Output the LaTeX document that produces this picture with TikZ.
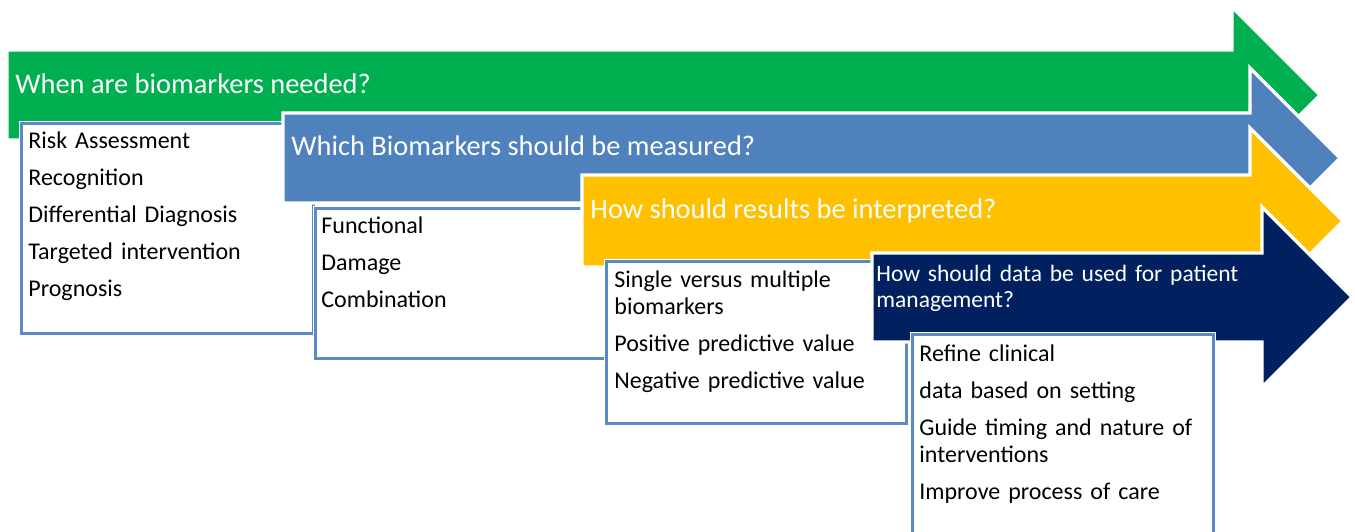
\documentclass[tikz,border=0pt]{standalone}
\usepackage{fontspec}
\setmainfont{Carlito}
\definecolor{vert}{HTML}{00B050}
\definecolor{bleu}{HTML}{4F81BD}
\definecolor{jaune}{HTML}{FFC000}
\definecolor{marine}{HTML}{002060}
\definecolor{cadre}{HTML}{5A8AC6}
\begin{document}
\begin{tikzpicture}[x=0.5pt, y=-0.5pt]
\tikzset{fleche/.style={draw=white, line width=1.6pt, line join=miter},
  boite/.style={draw=cadre, line width=1.5pt, fill=white, preaction={draw=white, line width=2.8pt}, anchor=north west, inner sep=0pt},
  titre/.style={text=white, anchor=base west, inner sep=0pt, font=\fontsize{14.2}{16}\selectfont},
  liste/.style={anchor=base west, inner sep=0pt, text width=148pt, align=left, font=\fontsize{12}{13.5}\selectfont}}
\useasboundingbox (0,0) rectangle (1355,531);
\clip (0,0) rectangle (1355,531);
% step 1
\fill[fleche, fill=vert] (7,50) -- (1232,50) -- (1232,7) -- (1320,95) -- (1232,183) -- (1232,140) -- (7,140) -- cycle;
\node[titre] (T1) at (15,93) {When are biomarkers needed?};
\node[boite, minimum width=146pt, minimum height=105pt] (B1) at (20,122) {};
\node[liste] (L1) at ([shift={(8,26)}]B1.north west) {Risk Assessment\\[5pt] Recognition\\[5pt] Differential Diagnosis\\[5pt] Targeted intervention\\[5pt] Prognosis};
% step 2
\fill[fleche, fill=bleu] (283,113) -- (1250,113) -- (1250,68) -- (1340,158) -- (1250,248) -- (1250,203) -- (283,203) -- cycle;
\node[titre] (T2) at (291,155) {Which Biomarkers should be measured?};
\node[boite, minimum width=145pt, minimum height=75pt] (B2) at (314,207) {};
\node[liste] (L2) at ([shift={(7,26)}]B2.north west) {Functional\\[5pt] Damage\\[5pt] Combination};
% step 3
\fill[fleche, fill=jaune] (582,175) -- (1250,175) -- (1250,128) -- (1343,221) -- (1250,314) -- (1250,267) -- (582,267) -- cycle;
\node[titre] (T3) at (590,218) {How should results be interpreted?};
\node[boite, minimum width=150pt, minimum height=81pt] (B3) at (605,260) {};
\node[liste] (L3) at ([shift={(9,27)}]B3.north west) {Single versus multiple\\ biomarkers\\[5pt] Positive predictive value\\[5pt] Negative predictive value};
% step 4
\fill[fleche, fill=marine] (872,253) -- (1262,253) -- (1262,207) -- (1352,297) -- (1262,387) -- (1262,342) -- (872,342) -- cycle;
\node[titre, text width=200pt, align=left, font=\fontsize{11.75}{13}\selectfont] (T4) at (876,281) {How should data be used for patient\\ management?};
\node[boite, minimum width=150.5pt, minimum height=106pt] (B4) at (911,333) {};
\node[liste] (L4) at ([shift={(8,28)}]B4.north west) {Refine clinical\\[5pt] data based on setting\\[5pt] Guide timing and nature of\\ interventions\\[5pt] Improve process of care};
\end{tikzpicture}
\end{document}
